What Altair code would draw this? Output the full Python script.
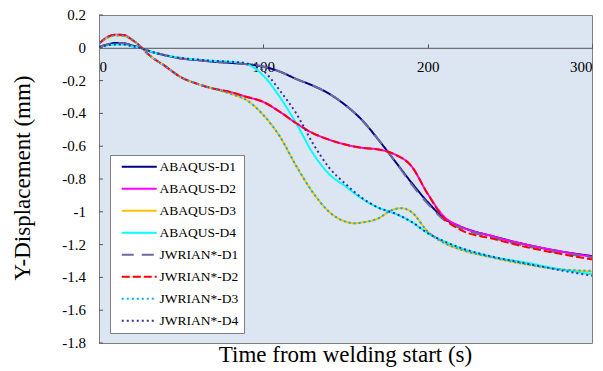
import altair as alt
import pandas as pd

SERIES = ["ABAQUS-D1", "ABAQUS-D2", "ABAQUS-D3", "ABAQUS-D4",
          "JWRIAN*-D1", "JWRIAN*-D2", "JWRIAN*-D3", "JWRIAN*-D4"]
COLORS = ["#000080", "#ff00ff", "#ffc000", "#00ffff",
          "#6b6b9e", "#ff0000", "#00b0f0", "#3333a0"]
DASHES = [[1, 0], [1, 0], [1, 0], [1, 0], [12, 8], [8, 3], [2, 3], [2, 3]]
WIDTHS = [2, 2, 2, 2, 3.5, 3, 2.5, 2.5]

T = [0, 5, 10, 15, 20, 25, 30, 40, 50, 60, 70, 80, 90, 100, 110, 120, 130,
     140, 150, 160, 170, 180, 190, 200, 210, 220, 240, 260, 280, 300]
T_D3 = [0, 5, 10, 15, 20, 25, 30, 40, 50, 60, 70, 80, 90, 100, 110, 120, 130,
        140, 150, 155, 160, 170, 178, 184, 190, 200, 210, 220, 240, 260, 280, 300]

ABAQUS_D1 = [0.005, 0.02, 0.03, 0.028, 0.015, 0.0, -0.018, -0.045, -0.065, -0.075,
             -0.085, -0.092, -0.10, -0.115, -0.145, -0.19, -0.23, -0.28, -0.35,
             -0.44, -0.56, -0.69, -0.82, -0.94, -1.04, -1.09, -1.15, -1.2,
             -1.24, -1.27]
JWRIAN_D1 = [0.005, 0.02, 0.03, 0.028, 0.015, 0.0, -0.018, -0.045, -0.065, -0.075,
             -0.085, -0.092, -0.10, -0.115, -0.145, -0.19, -0.23, -0.28, -0.35,
             -0.44, -0.56, -0.69, -0.83, -0.95, -1.05, -1.10, -1.16, -1.21,
             -1.25, -1.28]
ABAQUS_D2 = [0.025, 0.065, 0.08, 0.078, 0.05, 0.01, -0.04, -0.11, -0.18, -0.22,
             -0.25, -0.27, -0.30, -0.33, -0.39, -0.46, -0.52, -0.56, -0.59,
             -0.61, -0.62, -0.65, -0.72, -0.89, -1.03, -1.09, -1.15, -1.2,
             -1.24, -1.274]
JWRIAN_D2 = [0.025, 0.065, 0.08, 0.078, 0.05, 0.01, -0.04, -0.11, -0.18, -0.22,
             -0.25, -0.27, -0.30, -0.33, -0.39, -0.46, -0.52, -0.56, -0.59,
             -0.61, -0.62, -0.65, -0.72, -0.89, -1.04, -1.11, -1.165, -1.215,
             -1.255, -1.29]
ABAQUS_D3 = [0.025, 0.06, 0.075, 0.072, 0.05, 0.01, -0.04, -0.11, -0.18, -0.22,
             -0.25, -0.28, -0.32, -0.41, -0.54, -0.72, -0.88, -1.0, -1.06,
             -1.07, -1.065, -1.04, -0.99, -0.978, -1.0, -1.12, -1.19, -1.23,
             -1.28, -1.32, -1.35, -1.365]
JWRIAN_D3 = [0.025, 0.06, 0.075, 0.072, 0.05, 0.01, -0.04, -0.11, -0.18, -0.22,
             -0.25, -0.28, -0.32, -0.41, -0.54, -0.72, -0.88, -1.0, -1.06,
             -1.07, -1.065, -1.04, -0.99, -0.978, -1.0, -1.12, -1.19, -1.23,
             -1.28, -1.32, -1.35, -1.36]
ABAQUS_D4 = [0.005, 0.015, 0.02, 0.02, 0.01, 0.0, -0.018, -0.045, -0.062, -0.072,
             -0.08, -0.085, -0.10, -0.17, -0.30, -0.46, -0.64, -0.77, -0.845,
             -0.92, -0.975, -1.01, -1.06, -1.13, -1.18, -1.22, -1.275, -1.31,
             -1.35, -1.38]
JWRIAN_D4 = [0.005, 0.015, 0.02, 0.02, 0.01, 0.0, -0.018, -0.045, -0.062, -0.072,
             -0.08, -0.085, -0.095, -0.14, -0.26, -0.40, -0.58, -0.73, -0.83,
             -0.915, -0.975, -1.01, -1.06, -1.13, -1.18, -1.22, -1.275, -1.315,
             -1.355, -1.39]

Y_TICKS = [0.2, 0.0, -0.2, -0.4, -0.6, -0.8, -1.0, -1.2, -1.4, -1.6, -1.8]
Y_LABELS = ["0.2", "0", "-0.2", "-0.4", "-0.6", "-0.8", "-1", "-1.2", "-1.4", "-1.6", "-1.8"]
X_TICKS = [0, 100, 200, 300]

series_data = [
    ("ABAQUS-D1", T, ABAQUS_D1), ("ABAQUS-D2", T, ABAQUS_D2),
    ("ABAQUS-D3", T_D3, ABAQUS_D3), ("ABAQUS-D4", T, ABAQUS_D4),
    ("JWRIAN*-D1", T, JWRIAN_D1), ("JWRIAN*-D2", T, JWRIAN_D2),
    ("JWRIAN*-D3", T_D3, JWRIAN_D3), ("JWRIAN*-D4", T, JWRIAN_D4),
]
rows = []
for name, ts, vs in series_data:
    for t, v in zip(ts, vs):
        rows.append({"series": name, "t": t, "v": v})
df = pd.DataFrame(rows)

FONT = "Times New Roman"

x_enc = alt.X("t:Q", scale=alt.Scale(domain=[0, 300], nice=False),
              axis=alt.Axis(orient="top", offset=-32.8, values=X_TICKS,
                            tickSize=4, tickColor="#555555", domainColor="#555555",
                            labelBaseline="top", labelPadding=-16,
                            labelFont=FONT, labelFontSize=15, labelColor="black",
                            labelOverlap=False, grid=False, title=None))
y_scale = alt.Scale(domain=[-1.8, 0.2], nice=False, zero=False)
y_axis = alt.Axis(values=Y_TICKS, labels=False, ticks=False,
                  domainColor="#7f7f7f", grid=False,
                  title="Y-Displacement (mm)", titleFont=FONT, titleFontSize=23,
                  titleFontWeight="normal", titleColor="black",
                  titleX=-76.5, titleY=162.5,
                  titleBaseline="middle", titleAngle=-90)

legend = alt.Legend(orient="none", legendX=11, legendY=140, title=None,
                    symbolType="M-3.5,0H3.5", symbolSize=100,
                    symbolOffset=17.5, labelOffset=13.5,
                    labelFont=FONT, labelFontSize=13.5, labelColor="black",
                    fillColor="white", strokeColor="#7f7f7f", padding=5,
                    rowPadding=7)

lines = alt.Chart(df).mark_line(interpolate="monotone", clip=True).encode(
    x=x_enc,
    y=alt.Y("v:Q", scale=y_scale, axis=y_axis),
    color=alt.Color("series:N", scale=alt.Scale(domain=SERIES, range=COLORS), legend=legend),
    strokeDash=alt.StrokeDash("series:N", scale=alt.Scale(domain=SERIES, range=DASHES)),
    strokeWidth=alt.StrokeWidth("series:N", scale=alt.Scale(domain=SERIES, range=WIDTHS)),
)

tick_df = pd.DataFrame({"v": Y_TICKS, "label": Y_LABELS})
yticks = alt.Chart(tick_df).mark_rule(color="#555555", strokeWidth=1).encode(
    y=alt.Y("v:Q", scale=y_scale, axis=y_axis),
    x=alt.value(0), x2=alt.value(4),
)
ylabels = alt.Chart(tick_df).mark_text(
    align="right", baseline="middle", font=FONT, fontSize=15, color="black"
).encode(
    y=alt.Y("v:Q", scale=y_scale, axis=y_axis),
    x=alt.value(-13),
    text="label:N",
)

chart = alt.layer(lines, yticks, ylabels).properties(
    width=493, height=328,
    padding={"left": 99, "top": 15, "right": 11, "bottom": 28},
    autosize=alt.AutoSizeParams(type="none"),
    background="white",
    title=alt.TitleParams("Time from welding start (s)", orient="bottom",
                          font=FONT, fontSize=23, fontWeight="normal",
                          color="black", offset=-7, baseline="top"),
).configure_view(
    fill="#dce6f2", stroke="#7f7f7f", strokeWidth=1
).configure_axis(
    labelFont=FONT, labelFontSize=15, labelColor="black", labelFontWeight="normal",
    labelOverlap=False, titleFont=FONT, titleFontSize=23, titleFontWeight="normal",
    titleColor="black"
).configure_legend(
    labelFont=FONT, labelFontSize=13.5, labelColor="black", labelFontWeight="normal"
).configure_title(
    font=FONT, fontSize=23, fontWeight="normal", color="black"
)

chart.save("out.html", embed_options={"renderer": "svg", "actions": False})
